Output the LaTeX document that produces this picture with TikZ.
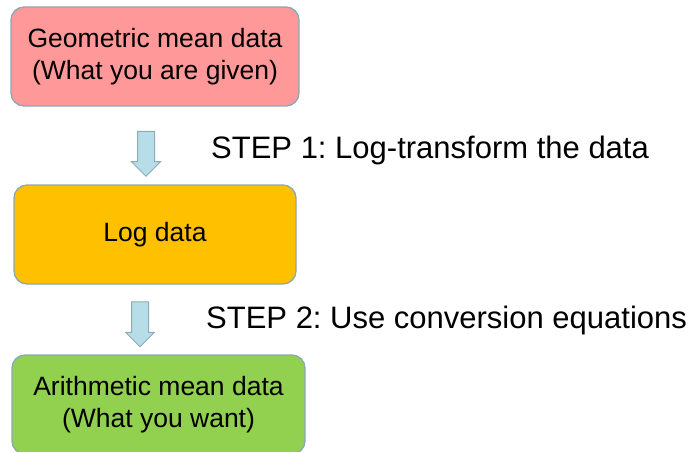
\documentclass[tikz,border=0pt]{standalone}
\usepackage{fontspec}
\setmainfont{Liberation Sans}
\usetikzlibrary{shapes.arrows}
\frenchspacing

\definecolor{boxline}{RGB}{138,168,182}
\definecolor{givenred}{RGB}{255,153,153}
\definecolor{logorange}{RGB}{255,192,0}
\definecolor{wantgreen}{RGB}{146,208,80}
\definecolor{arrowfill}{RGB}{183,222,232}
\definecolor{arrowline}{RGB}{140,172,180}

\tikzset{
    databox/.style={draw=boxline, line width=1.3pt, rounded corners=13pt,
        minimum height=99pt, align=center, inner sep=0pt,
        font=\fontsize{26.5}{32}\selectfont},
    downarrow/.style={single arrow, draw=arrowline, fill=arrowfill, line width=1pt,
        rotate=-90, minimum height=45pt, inner sep=8pt,
        single arrow head extend=6pt},
    steplabel/.style={anchor=base west, inner sep=0pt,
        font=\fontsize{31}{37}\selectfont}
}

\begin{document}
\begin{tikzpicture}[x=1pt,y=-1pt]
            \useasboundingbox (0,0) rectangle (697,452);
            \node[databox, fill=givenred, minimum width=288pt] (given) at (155,56.5)
                {Geometric mean data\\(What you are given)};
            \node[databox, fill=logorange, minimum width=282pt] (logdata) at (155,234.5)
                {Log data};
            \node[databox, fill=wantgreen, minimum width=293pt] (want) at (158.5,404.5)
                {Arithmetic mean data\\(What you want)};

            \node[downarrow] (arrowone) at (146,149.5) {};
            \node[downarrow] (arrowtwo) at (140,320) {};

            \node[steplabel] (stepone) at (211,158) {STEP 1: Log-transform the data};
            \node[steplabel] (steptwo) at (206,328) {STEP 2: Use conversion equations};
        \end{tikzpicture}
\end{document}
